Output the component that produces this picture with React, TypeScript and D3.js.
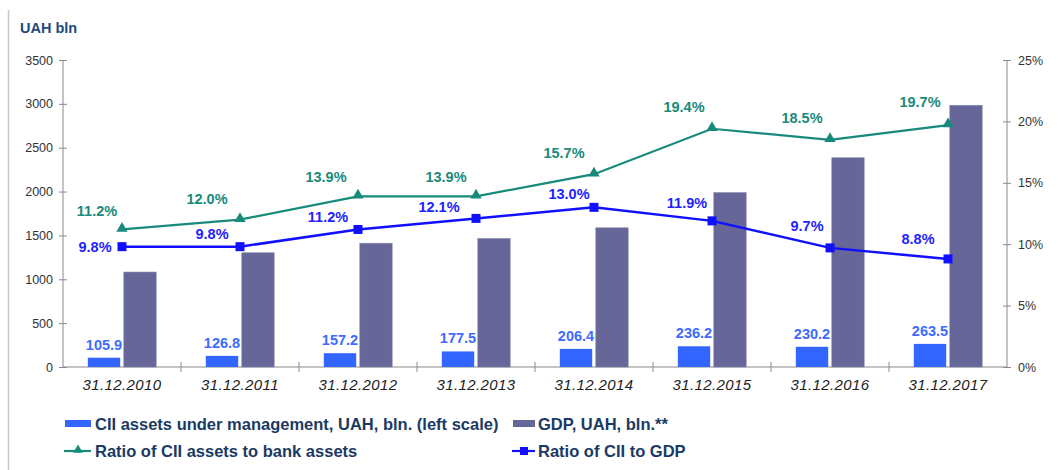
import React, { useEffect, useRef } from "react";
import * as d3 from "d3";

const dates = ["31.12.2010", "31.12.2011", "31.12.2012", "31.12.2013", "31.12.2014", "31.12.2015", "31.12.2016", "31.12.2017"];
const ciiAssets = [105.9, 126.8, 157.2, 177.5, 206.4, 236.2, 230.2, 263.5];
const gdp = [1082.6, 1302.1, 1411.2, 1465.2, 1586.9, 1988.5, 2385.4, 2983.9];
const ratioBank = [11.2, 12.0, 13.9, 13.9, 15.7, 19.4, 18.5, 19.7];
const ratioGdp = [9.8, 9.8, 11.2, 12.1, 13.0, 11.9, 9.7, 8.8];
const leftTicks = [0, 500, 1000, 1500, 2000, 2500, 3000, 3500];
const rightTicks = [0, 5, 10, 15, 20, 25];

// label nudges for the line labels (px, relative to marker)
const bankLabelOff = [[-25, -13], [-33, -16], [-32, -14], [-30, -14], [-30, -16], [-28, -17], [-28, -17], [-28, -18]];
const gdpLabelOff = [[-27, 5], [-28, -8], [-30, -7], [-37, -6], [-25, -8], [-25, -13], [-23, -17], [-30, -15]];

const W = 1058, H = 470;
const margin = { top: 60, left: 63, right: 51, bottom: 103 };
const font = "'Liberation Sans', Arial, sans-serif";
const navy = "#1b3a63";
const teal = "#178a7b";
const blueLine = "#1010ff";

export default function App() {
  const svgRef = useRef<SVGSVGElement>(null);

  useEffect(() => {
    const svg = d3.select(svgRef.current);
    svg.selectAll("*").remove();

    const x0 = margin.left, x1 = W - margin.right;
    const yBottom = H - margin.bottom;

    const x = d3.scaleBand().domain(dates).range([x0, x1]).padding(0);
    const inner = d3.scaleBand().domain(["cii", "gdp"]).range([0, x.bandwidth()])
      .paddingInner(0.1).paddingOuter(0.69);
    const y = d3.scaleLinear().domain([0, 3500]).range([yBottom, margin.top]);
    const yr = d3.scaleLinear().domain([0, 25]).range([yBottom, margin.top]);

    // frame line on the left
    svg.append("line").attr("x1", 8.5).attr("x2", 8.5).attr("y1", 10).attr("y2", H)
      .style("stroke", "#c8c8c8").style("stroke-width", 1.5);

    svg.append("text").attr("x", 20).attr("y", 33).text("UAH bln")
      .attr("font-family", font).attr("font-weight", 700).attr("font-size", 14.5)
      .style("fill", "#1f4a7d");

    // left axis
    const gl = svg.append("g").attr("transform", `translate(${x0},0)`)
      .call(d3.axisLeft(y).tickValues(leftTicks).tickFormat(d3.format("d")).tickSize(4).tickPadding(6));
    gl.selectAll(".tick line").attr("x1", -4).attr("x2", 4);
    gl.selectAll("path, line").style("stroke", "#8a8a8a");
    gl.selectAll("text").attr("font-family", font).attr("font-size", 12.5).style("fill", "#333");
    gl.select(".domain").attr("d", `M0,${margin.top}V${yBottom}`);

    // right axis
    const gr = svg.append("g").attr("transform", `translate(${x1},0)`)
      .call(d3.axisRight(yr).tickValues(rightTicks).tickFormat((d) => d + "%").tickSize(4).tickPadding(7));
    gr.selectAll(".tick line").attr("x1", -4).attr("x2", 4);
    gr.selectAll("path, line").style("stroke", "#8a8a8a");
    gr.selectAll("text").attr("font-family", font).attr("font-size", 12.5).style("fill", "#333");
    gr.select(".domain").attr("d", `M0,${margin.top}V${yBottom}`);

    // x axis
    const gx = svg.append("g");
    gx.append("line").attr("x1", x0).attr("x2", x1).attr("y1", yBottom).attr("y2", yBottom)
      .style("stroke", "#8a8a8a").style("stroke-width", 1);
    gx.selectAll("line.tk").data(dates.slice(1)).join("line").attr("class", "tk")
      .attr("x1", (d) => x(d)!).attr("x2", (d) => x(d)!)
      .attr("y1", yBottom - 5).attr("y2", yBottom + 5)
      .style("stroke", "#8a8a8a");
    gx.selectAll("text").data(dates).join("text")
      .attr("x", (d) => x(d)! + x.bandwidth() / 2).attr("y", yBottom + 23)
      .attr("text-anchor", "middle").attr("font-family", font).attr("font-style", "italic")
      .attr("font-size", 15).attr("letter-spacing", 0.4).style("fill", "#222").text((d) => d);

    // bars
    svg.append("g").selectAll("rect").data(gdp).join("rect")
      .attr("x", (d, i) => x(dates[i])! + inner("gdp")!)
      .attr("y", (d) => y(d)).attr("width", inner.bandwidth())
      .attr("height", (d) => yBottom - y(d))
      .style("fill", "#666699").style("stroke", "#8585ad").style("stroke-width", 0.6);

    svg.append("g").selectAll("rect").data(ciiAssets).join("rect")
      .attr("x", (d, i) => x(dates[i])! + inner("cii")!)
      .attr("y", (d) => y(d)).attr("width", inner.bandwidth())
      .attr("height", (d) => yBottom - y(d))
      .style("fill", "#3366ff");

    svg.append("g").selectAll("text").data(ciiAssets).join("text")
      .attr("x", (d, i) => x(dates[i])! + inner("cii")! + inner.bandwidth() / 2)
      .attr("y", (d) => y(d) - 8).attr("text-anchor", "middle")
      .attr("font-family", font).attr("font-weight", 700).attr("font-size", 14.5)
      .style("fill", "#3d6bff").text((d) => d.toFixed(1));

    const cx = (i: number) => x(dates[i])! + x.bandwidth() / 2;

    // teal line
    const lineBank = d3.line<number>().x((d, i) => cx(i)).y((d) => yr(d));
    svg.append("path").datum(ratioBank).attr("d", lineBank)
      .style("fill", "none").style("stroke", teal).style("stroke-width", 2.2);
    const tri = d3.symbol().type(d3.symbolTriangle).size(55);
    svg.append("g").selectAll("path").data(ratioBank).join("path")
      .attr("d", tri).attr("transform", (d, i) => `translate(${cx(i)},${yr(d) - 1})`)
      .style("fill", teal);
    svg.append("g").selectAll("text").data(ratioBank).join("text")
      .attr("x", (d, i) => cx(i) + bankLabelOff[i][0]).attr("y", (d, i) => yr(d) + bankLabelOff[i][1])
      .attr("text-anchor", "middle").attr("font-family", font).attr("font-weight", 700)
      .attr("font-size", 14.5).style("fill", teal).text((d) => d.toFixed(1) + "%");

    // blue line
    const lineGdp = d3.line<number>().x((d, i) => cx(i)).y((d) => yr(d));
    svg.append("path").datum(ratioGdp).attr("d", lineGdp)
      .style("fill", "none").style("stroke", blueLine).style("stroke-width", 2.5);
    svg.append("g").selectAll("rect").data(ratioGdp).join("rect")
      .attr("x", (d, i) => cx(i) - 4.5).attr("y", (d) => yr(d) - 4.5)
      .attr("width", 9).attr("height", 9).style("fill", blueLine);
    svg.append("g").selectAll("text").data(ratioGdp).join("text")
      .attr("x", (d, i) => cx(i) + gdpLabelOff[i][0]).attr("y", (d, i) => yr(d) + gdpLabelOff[i][1])
      .attr("text-anchor", "middle").attr("font-family", font).attr("font-weight", 700)
      .attr("font-size", 14.5).style("fill", "#2222ff").text((d) => d.toFixed(1) + "%");

    // legend
    const lg = svg.append("g").attr("font-family", font).attr("font-weight", 700)
      .attr("font-size", 16.5).style("fill", navy);
    const items = [
      { label: "CII assets under management, UAH, bln. (left scale)", kind: "bar", color: "#3366ff", lx: 65, ly: 424, sw: 26, tx: 30 },
      { label: "GDP, UAH, bln.**", kind: "bar", color: "#666699", lx: 513, ly: 424, sw: 22, tx: 25 },
      { label: "Ratio of CII assets to bank assets", kind: "tri", color: teal, lx: 65, ly: 451, sw: 26, tx: 30 },
      { label: "Ratio of CII to GDP", kind: "sq", color: blueLine, lx: 513, ly: 451, sw: 22, tx: 25 },
    ];
    items.forEach((it) => {
      if (it.kind === "bar") {
        lg.append("rect").attr("x", it.lx).attr("y", it.ly - 4).attr("width", it.sw).attr("height", 7)
          .style("fill", it.color);
      } else {
        lg.append("line").attr("x1", it.lx - 1).attr("x2", it.lx + it.sw).attr("y1", it.ly).attr("y2", it.ly)
          .style("stroke", it.color).style("stroke-width", 2.2);
        if (it.kind === "tri") {
          lg.append("path").attr("d", d3.symbol().type(d3.symbolTriangle).size(40))
            .attr("transform", `translate(${it.lx + it.sw / 2},${it.ly - 1})`).style("fill", it.color);
        } else {
          lg.append("rect").attr("x", it.lx + it.sw / 2 - 4).attr("y", it.ly - 4).attr("width", 8).attr("height", 8)
            .style("fill", it.color);
        }
      }
      lg.append("text").attr("x", it.lx + it.tx).attr("y", it.ly + 6).text(it.label);
    });
  }, []);

  return (
    <svg ref={svgRef} width={W} height={H}
      style={{ position: "absolute", left: 0, top: 0, background: "#fff", display: "block" }} />
  );
}
